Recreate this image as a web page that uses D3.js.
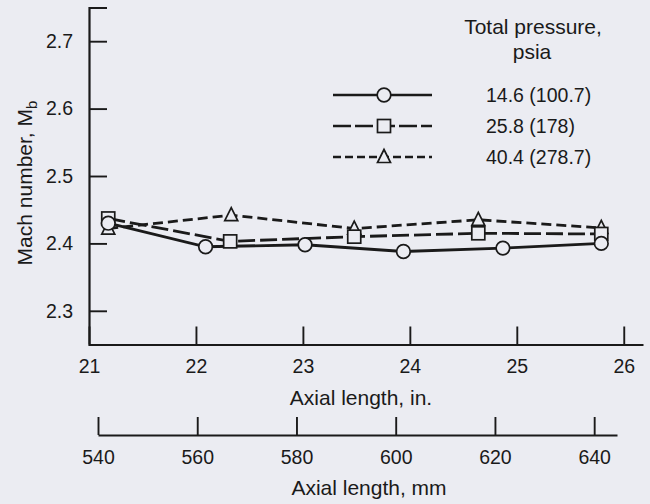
<!DOCTYPE html>
<html>
<head>
<meta charset="utf-8">
<script src="https://cdn.jsdelivr.net/npm/d3@7"></script>
<style>
  html, body { margin: 0; padding: 0; background: #ebecf2; }
  svg { display: block; }
  text { font-family: "Liberation Sans", Arial, sans-serif; fill: #1a1a1a; }
</style>
</head>
<body>
<svg id="chart" width="650" height="504"></svg>
<script>
// axis ticks
const inchTicks = [21, 22, 23, 24, 25, 26];
const mmTicks = [540, 560, 580, 600, 620, 640];
const machTicks = [2.3, 2.4, 2.5, 2.6, 2.7];

// series: 14.6 psia (circle), 25.8 psia (square), 40.4 psia (triangle)
const seriesNames = ['14.6 (100.7)', '25.8 (178)', '40.4 (278.7)'];
const circleX = [21.18, 22.09, 23.02, 23.94, 24.87, 25.79];
const circleY = [2.430, 2.395, 2.398, 2.388, 2.393, 2.400];
const squareX = [21.18, 22.32, 23.48, 24.64, 25.79];
const squareY = [2.437, 2.403, 2.410, 2.415, 2.414];
const triangleX = [21.18, 22.33, 23.48, 24.64, 25.79];
const triangleY = [2.422, 2.442, 2.422, 2.435, 2.423];

const ink = '#1a1a1a';
const bg = '#ebecf2';
const numFs = '19.5px';   // digits
const wordFs = '21px';    // titles

const svg = d3.select('#chart');

const x = d3.scaleLinear().domain([21, 26.18]).range([89, 643]);
const xmm = d3.scaleLinear().domain([540, 644.6]).range([98, 617]);
const y = d3.scaleLinear().domain([2.25, 2.75]).range([344.5, 7.5]);

function styleAxis(g) {
    g.select('.domain').attr('stroke', ink).attr('stroke-width', 2.2);
    g.selectAll('.tick line').attr('stroke', ink).attr('stroke-width', 1.9);
    g.selectAll('.tick text').style('font-size', numFs).attr('fill', ink);
}

// Y axis
svg.append('g')
    .attr('transform', `translate(${x(21)},0)`)
    .call(d3.axisLeft(y).tickValues(machTicks).tickFormat(d3.format('.1f'))
        .tickSizeInner(-18).tickSizeOuter(-18).tickPadding(16))
    .call(styleAxis);

// X axis (inches)
svg.append('g')
    .attr('transform', `translate(0,${y(2.25)})`)
    .call(d3.axisBottom(x).tickValues(inchTicks).tickFormat(d3.format('d'))
        .tickSizeInner(-18).tickSizeOuter(0).tickPadding(15))
    .call(styleAxis);

// X axis (mm)
svg.append('g')
    .attr('transform', 'translate(0,435)')
    .call(d3.axisBottom(xmm).tickValues(mmTicks).tickFormat(d3.format('d'))
        .tickSizeInner(-18).tickSizeOuter(0).tickPadding(15))
    .call(styleAxis);

// axis titles
svg.append('text').attr('x', 361).attr('y', 405).attr('text-anchor', 'middle')
    .style('font-size', wordFs).text('Axial length, in.');
svg.append('text').attr('x', 369).attr('y', 495).attr('text-anchor', 'middle')
    .style('font-size', wordFs).text('Axial length, mm');

const yTitle = svg.append('text')
    .attr('transform', 'translate(32,183) rotate(-90)')
    .attr('text-anchor', 'middle')
    .style('font-size', wordFs);
yTitle.append('tspan').text('Mach number, M');
yTitle.append('tspan').attr('dy', 5).style('font-size', '15px').text('b');

// series
const series = [
    { name: seriesNames[2], xs: triangleX, ys: triangleY, dash: '10,5', shape: 'triangle' },
    { name: seriesNames[1], xs: squareX, ys: squareY, dash: '17,5', shape: 'square' },
    { name: seriesNames[0], xs: circleX, ys: circleY, dash: null, shape: 'circle' }
];

function drawMarker(g, shape, cx, cy) {
    if (shape === 'circle') {
        g.append('circle').attr('cx', cx).attr('cy', cy).attr('r', 6.8)
            .attr('fill', bg).attr('stroke', ink).attr('stroke-width', 1.7);
    } else if (shape === 'square') {
        g.append('rect').attr('x', cx - 6.5).attr('y', cy - 6.5).attr('width', 13).attr('height', 13)
            .attr('fill', bg).attr('stroke', ink).attr('stroke-width', 1.7);
    } else {
        g.append('path').attr('d', `M${cx},${cy - 7.5}L${cx + 6.5},${cy + 5.5}L${cx - 6.5},${cy + 5.5}Z`)
            .attr('fill', bg).attr('stroke', ink).attr('stroke-width', 1.7);
    }
}

const line = d3.line().x(d => x(d[0])).y(d => y(d[1]));
const plot = svg.append('g');
series.forEach(s => {
    const pts = s.xs.map((v, i) => [v, s.ys[i]]);
    plot.append('path').attr('d', line(pts))
        .attr('fill', 'none').attr('stroke', ink).attr('stroke-width', 2.8)
        .attr('stroke-dasharray', s.dash);
});
series.forEach(s => {
    const g = plot.append('g');
    s.xs.forEach((v, i) => drawMarker(g, s.shape, x(v), y(s.ys[i])));
});

// legend
const legend = svg.append('g');
legend.append('text').attr('x', 533).attr('y', 34).attr('text-anchor', 'middle')
    .style('font-size', wordFs).text('Total pressure,');
legend.append('text').attr('x', 532).attr('y', 59).attr('text-anchor', 'middle')
    .style('font-size', wordFs).text('psia');

const legendRows = [series[2], series[1], series[0]];
const rowY = [95, 126, 157];
const legendDash = [null, '18,4', '8,4'];
legendRows.forEach((s, i) => {
    const ly = rowY[i];
    legend.append('line').attr('x1', 333).attr('x2', 432).attr('y1', ly).attr('y2', ly)
        .attr('stroke', ink).attr('stroke-width', 2.4)
        .attr('stroke-dasharray', legendDash[i]);
    drawMarker(legend, s.shape, 384, ly);
    legend.append('text').attr('x', 486).attr('y', ly + 7)
        .style('font-size', numFs).text(s.name);
});
</script>
</body>
</html>
